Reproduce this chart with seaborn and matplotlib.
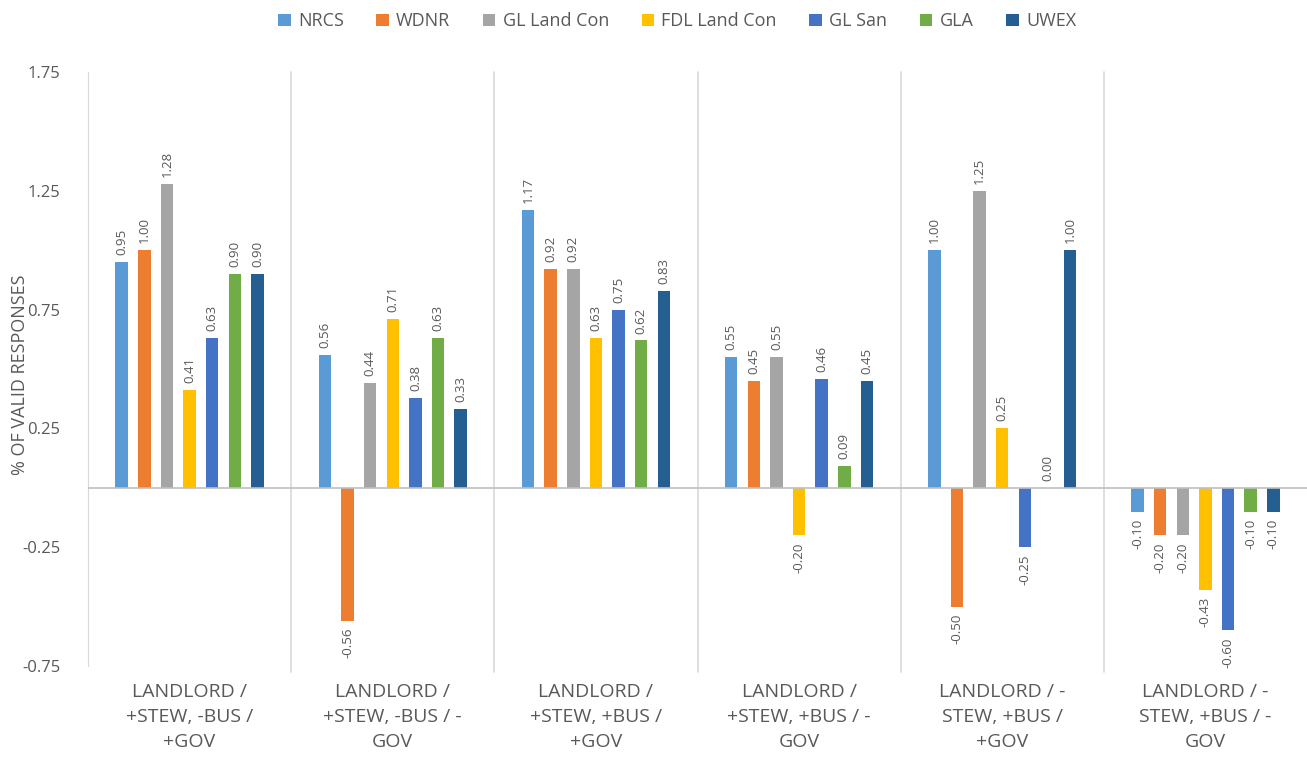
import pandas as pd
import matplotlib.pyplot as plt
import seaborn as sns
from matplotlib.patches import Patch

# categories (x groups)
scenarios = [
    "LANDLORD /\n+STEW, -BUS /\n+GOV",
    "LANDLORD /\n+STEW, -BUS / -\nGOV",
    "LANDLORD /\n+STEW, +BUS /\n+GOV",
    "LANDLORD /\n+STEW, +BUS / -\nGOV",
    "LANDLORD / -\nSTEW, +BUS /\n+GOV",
    "LANDLORD / -\nSTEW, +BUS / -\nGOV",
]

agencies = ["NRCS", "WDNR", "GL Land Con", "FDL Land Con", "GL San", "GLA", "UWEX"]

nrcs = [0.95, 0.56, 1.17, 0.55, 1.00, -0.10]
wdnr = [1.00, -0.56, 0.92, 0.45, -0.50, -0.20]
gl_land_con = [1.28, 0.44, 0.92, 0.55, 1.25, -0.20]
fdl_land_con = [0.41, 0.71, 0.63, -0.20, 0.25, -0.43]
gl_san = [0.63, 0.38, 0.75, 0.46, -0.25, -0.60]
gla = [0.90, 0.63, 0.62, 0.09, 0.00, -0.10]
uwex = [0.90, 0.33, 0.83, 0.45, 1.00, -0.10]

colors = ["#5B9BD5", "#ED7D31", "#A5A5A5", "#FFC000", "#4472C4", "#70AD47", "#255E91"]

series = [nrcs, wdnr, gl_land_con, fdl_land_con, gl_san, gla, uwex]
rows = []
for name, vals in zip(agencies, series):
    for sc, v in zip(scenarios, vals):
        rows.append({"scenario": sc, "agency": name, "value": v})
df = pd.DataFrame(rows)

sns.set_style("white")
plt.rcParams['font.family'] = ['Open Sans', 'DejaVu Sans']

fig = plt.figure(figsize=(13.07, 7.57), dpi=100)
ax = fig.add_axes([88 / 1307, 1 - 666 / 757, 1 - 88 / 1307, (666 - 72) / 757])

sns.barplot(data=df, x="scenario", y="value", hue="agency", order=scenarios,
            hue_order=agencies, palette=colors, width=0.78, gap=0.45,
            saturation=1, legend=False, linewidth=0, ax=ax)

text_gray = "#595959"
for cont in ax.containers:
    ax.bar_label(cont, fmt="%.2f", rotation=90, padding=5, fontsize=9.5, color=text_gray)

ax.set_xlim(-0.5, 5.5)
ax.set_ylim(-0.75, 1.75)
ax.set_yticks([-0.75, -0.25, 0.25, 0.75, 1.25, 1.75])
ax.set_yticklabels(["-0.75", "-0.25", "0.25", "0.75", "1.25", "1.75"])
ax.tick_params(axis="y", labelsize=12, colors=text_gray, length=0, pad=20)
ax.tick_params(axis="x", labelsize=14, colors=text_gray, length=0, pad=12)
for lbl in ax.get_xticklabels():
    lbl.set_linespacing(1.5)

ax.set_xlabel("")
ax.set_ylabel("% OF VALID RESPONSES", fontsize=13, color=text_gray)
ax.yaxis.set_label_coords(-0.048, 0.49)

for s in ["top", "right", "bottom"]:
    ax.spines[s].set_visible(False)
ax.spines["left"].set_color("#D9D9D9")

ax.axhline(0, color="#BFBFBF", lw=1.2, zorder=3)
for xb in [0.5, 1.5, 2.5, 3.5, 4.5]:
    ax.axvline(xb, color="#D9D9D9", lw=1.2, zorder=0, ymin=-0.01, clip_on=False)

handles = [Patch(facecolor=c, edgecolor="none") for c in colors]
fig.legend(handles, agencies, loc="upper center", bbox_to_anchor=(0.518, 1.005),
           ncol=7, frameon=False, fontsize=13, handlelength=0.7, handleheight=0.7,
           columnspacing=1.8, handletextpad=0.4, labelcolor=text_gray)

fig.savefig("out.png", dpi=100)
